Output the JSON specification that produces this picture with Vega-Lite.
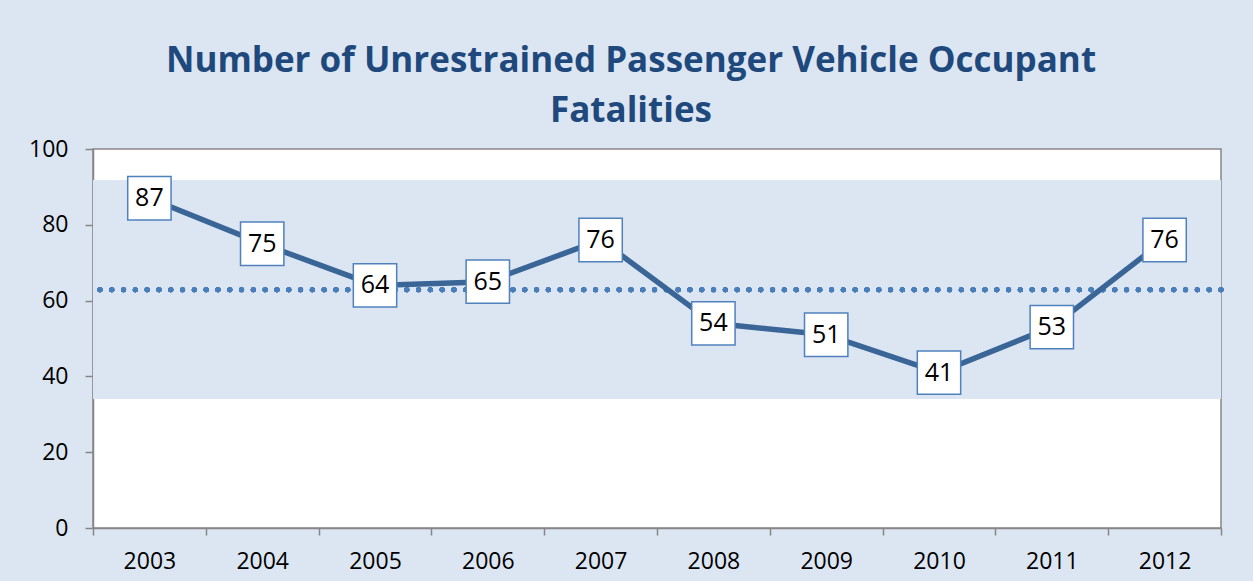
{
  "$schema": "https://vega.github.io/schema/vega-lite/v6.json",
  "width": 1128,
  "height": 379,
  "autosize": {"type": "none"},
  "padding": {"left": 93, "top": 149, "right": 32, "bottom": 53},
  "background": "#dce6f2",
  "title": {
    "text": ["Number of Unrestrained Passenger Vehicle Occupant", "Fatalities"],
    "font": "Open Sans",
    "fontSize": 35,
    "fontWeight": "bold",
    "color": "#1f497d",
    "lineHeight": 50,
    "anchor": "middle",
    "frame": "group",
    "dx": -26,
    "offset": 9
  },
  "data": {
    "values": [
      {"year": "2003", "value": 87},
      {"year": "2004", "value": 75},
      {"year": "2005", "value": 64},
      {"year": "2006", "value": 65},
      {"year": "2007", "value": 76},
      {"year": "2008", "value": 54},
      {"year": "2009", "value": 51},
      {"year": "2010", "value": 41},
      {"year": "2011", "value": 53},
      {"year": "2012", "value": 76}
    ]
  },
  "config": {
    "view": {"stroke": "#868686", "strokeWidth": 1.5, "fill": "white"},
    "axis": {
      "domainColor": "#868686",
      "domainWidth": 1.5,
      "tickColor": "#868686",
      "tickWidth": 1.5,
      "grid": false,
      "labelFont": "Open Sans",
      "labelFontSize": 23,
      "labelColor": "black",
      "title": null
    }
  },
  "encoding": {
    "x": {
      "field": "year",
      "type": "ordinal",
      "bandPosition": 0.5,
      "scale": {"type": "band", "paddingInner": 0, "paddingOuter": 0},
      "axis": {"tickBand": "extent", "tickSize": 7, "labelPadding": 15, "labelAngle": 0}
    }
  },
  "layer": [
    {
      "mark": {"type": "rect", "color": "#dce6f2"},
      "encoding": {
        "x": null,
        "y": {"datum": 91.6, "type": "quantitative", "scale": {"domain": [0, 100], "nice": false}, "axis": {"values": [0, 20, 40, 60, 80, 100], "tickSize": 8, "labelPadding": 17}},
        "y2": {"datum": 34.1}
      }
    },
    {
      "mark": {"type": "rule", "color": "#4a7ebb", "strokeWidth": 5, "strokeDash": [0.1, 11.7], "strokeCap": "round"},
      "encoding": {"x": null, "y": {"datum": 62.85, "type": "quantitative"}}
    },
    {
      "mark": {"type": "line", "color": "#3a6597", "strokeWidth": 5.5},
      "encoding": {"y": {"field": "value", "type": "quantitative"}}
    },
    {
      "mark": {"type": "point", "shape": "square", "size": 1880, "filled": true, "fill": "white", "stroke": "#4f81bd", "strokeWidth": 1.5, "opacity": 1},
      "encoding": {"y": {"field": "value", "type": "quantitative"}}
    },
    {
      "mark": {"type": "text", "font": "Open Sans", "fontSize": 25, "color": "black", "baseline": "middle", "align": "center"},
      "encoding": {"y": {"field": "value", "type": "quantitative"}, "text": {"field": "value"}}
    }
  ]
}
